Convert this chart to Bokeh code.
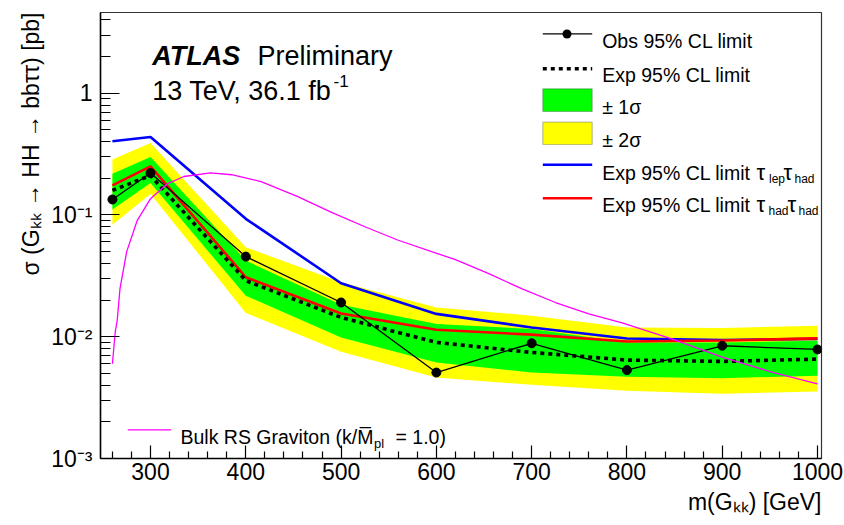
from bokeh.plotting import figure
from bokeh.models import Range1d, FixedTicker, Label, Arrow, BoxAnnotation, Title
from bokeh.embed import file_html
from bokeh.resources import INLINE

# ---------------- data ----------------
mass = [260, 300, 400, 500, 600, 700, 800, 900, 1000]
obs_limit = [0.134, 0.221, 0.0455, 0.0191, 0.00508, 0.00884, 0.00532, 0.00843, 0.00786]
exp_limit = [0.159, 0.211, 0.0289, 0.0144, 0.00898, 0.00743, 0.00643, 0.00627, 0.00655]
band1_up = [0.218, 0.299, 0.0422, 0.0183, 0.0127, 0.0116, 0.00898, 0.00898, 0.00927]
band1_dn = [0.111, 0.183, 0.0217, 0.00987, 0.00614, 0.00508, 0.00469, 0.00457, 0.00478]
band2_up = [0.286, 0.390, 0.0543, 0.0280, 0.0174, 0.0149, 0.0119, 0.0118, 0.0123]
band2_dn = [0.083, 0.149, 0.0157, 0.00753, 0.00462, 0.00403, 0.00360, 0.00341, 0.00355]
exp_lephad = [0.403, 0.437, 0.093, 0.0275, 0.0154, 0.0119, 0.00968, 0.0094, 0.0096]
exp_hadhad = [0.175, 0.251, 0.0308, 0.0155, 0.0114, 0.0104, 0.00915, 0.0093, 0.0097]

graviton_mass = [260, 263, 265, 268, 275, 286, 300, 318, 335, 363, 385, 416, 454, 490,
                 525, 560, 595, 620, 655, 690, 725, 760, 795, 847, 900, 953, 1000]
graviton_xs = [0.006, 0.011, 0.0135, 0.025, 0.050, 0.090, 0.136, 0.181, 0.207, 0.222,
               0.214, 0.188, 0.142, 0.105, 0.080, 0.062, 0.050, 0.043, 0.033, 0.0247,
               0.0191, 0.0154, 0.0130, 0.0096, 0.0068, 0.0051, 0.0041]

x_major_ticks = [300, 400, 500, 600, 700, 800, 900, 1000]
x_minor_ticks = [260, 280, 320, 340, 360, 380, 420, 440, 460, 480, 520, 540, 560, 580,
                 620, 640, 660, 680, 720, 740, 760, 780, 820, 840, 860, 880, 920, 940,
                 960, 980]
y_major_ticks = [0.001, 0.01, 0.1, 1]
y_minor_ticks = [0.002, 0.003, 0.004, 0.005, 0.006, 0.007, 0.008, 0.009,
                 0.02, 0.03, 0.04, 0.05, 0.06, 0.07, 0.08, 0.09,
                 0.2, 0.3, 0.4, 0.5, 0.6, 0.7, 0.8, 0.9, 2, 3, 4]
y_tick_labels = {0.001: "10\u207b\u00b3", 0.01: "10\u207b\u00b2", 0.1: "10\u207b\u00b9", 1: "1"}

x_title = "m(G\u2096\u2096) [GeV]"
y_title = "\u03c3 (G\u2096\u2096 \u2192 HH \u2192 bb\u03c4\u03c4) [pb]"

FONT = "Liberation Sans"

# ---------------- figure ----------------
W, H = 844, 525
FL, FR, FT, FB = 100, 821, 12, 458
p = figure(width=W, height=H, y_axis_type="log",
           x_range=Range1d(247.5, 1004.2), y_range=Range1d(0.001, 4.6),
           output_backend="svg", toolbar_location=None,
           min_border_left=FL, min_border_right=W - FR,
           min_border_top=FT, min_border_bottom=H - FB)
p.xgrid.visible = False
p.ygrid.visible = False
p.outline_line_color = "#333333"
p.outline_line_width = 1.2
p.background_fill_color = "white"
p.border_fill_color = "white"

for ax in (p.xaxis, p.yaxis):
    ax.axis_line_color = "black"
    ax.axis_line_width = 1.5
    ax.major_tick_line_color = "black"
    ax.minor_tick_line_color = "black"
    ax.major_tick_line_width = 1.2
    ax.minor_tick_line_width = 1.2
    ax.major_tick_out = 0
    ax.minor_tick_out = 0
    ax.major_label_text_font = FONT
    ax.major_label_text_font_size = "23px"
    ax.major_label_text_color = "black"

p.xaxis.ticker = FixedTicker(ticks=x_major_ticks, minor_ticks=x_minor_ticks)
p.xaxis.major_tick_in = 13
p.xaxis.minor_tick_in = 7
p.xaxis.major_label_standoff = 4

p.yaxis.ticker = FixedTicker(ticks=y_major_ticks, minor_ticks=y_minor_ticks)
p.yaxis.major_label_overrides = y_tick_labels
p.yaxis.major_tick_in = 19
p.yaxis.minor_tick_in = 10
p.yaxis.major_label_standoff = 8

# axis titles (right / top aligned, ROOT style)
p.add_layout(Title(text=x_title, align="right", text_font=FONT, text_font_size="23px",
                   text_font_style="normal", text_color="black", standoff=9), "below")
p.add_layout(Title(text=y_title, align="right", text_font=FONT, text_font_size="23px",
                   text_font_style="normal", text_color="black", standoff=10), "left")

# ---------------- data glyphs ----------------
p.varea(x=mass, y1=band2_dn, y2=band2_up, fill_color="#ffff00")
p.varea(x=mass, y1=band1_dn, y2=band1_up, fill_color="#00ff00")
p.line(mass, exp_lephad, line_color="#0000ff", line_width=2.6)
p.line(mass, exp_hadhad, line_color="#ff0000", line_width=2.6)
p.line(mass, exp_limit, line_color="black", line_width=3.6, line_dash="4 4")
p.line(mass, obs_limit, line_color="black", line_width=1.3)
p.scatter(mass, obs_limit, size=9, fill_color="black", line_color="black")
p.line(graviton_mass, graviton_xs, line_color="#ff00ff", line_width=1.3)


# ---------------- helpers for text placed in pixels (inside the frame) ----------------
def sx(cx):
    return cx - FL


def sy(cy):
    return FB - cy


def txt(s, cx, cy, size, align="left", style="normal", color="black"):
    p.add_layout(Label(x=sx(cx), y=sy(cy), x_units="screen", y_units="screen",
                       text=s, text_font=FONT, text_font_size=f"{size}px",
                       text_font_style=style, text_align=align,
                       text_baseline="alphabetic", text_color=color))


def hline(cx0, cx1, cy, color, width, dash="solid"):
    p.add_layout(Arrow(x_start=sx(cx0), y_start=sy(cy), x_end=sx(cx1), y_end=sy(cy),
                       start_units="screen", end_units="screen", start=None, end=None,
                       line_color=color, line_width=width, line_dash=dash))


def box(cx0, cx1, cy0, cy1, fill, line="#333333", lw=1.2, radius=0):
    p.add_layout(BoxAnnotation(left=sx(cx0), right=sx(cx1), top=sy(cy0), bottom=sy(cy1),
                               left_units="screen", right_units="screen",
                               top_units="screen", bottom_units="screen",
                               fill_color=fill, fill_alpha=1.0, line_color=line,
                               line_width=lw, border_radius=radius))


# ---------------- ATLAS label ----------------
txt("ATLAS", 151.7, 55, 27, style="bold italic")
txt("Preliminary", 257, 55, 27)
txt("13 TeV, 36.1 fb", 151.7, 90.7, 27)
txt("-1", 333, 80, 17)

# ---------------- legend (top right) ----------------
LX0, LX1, TX = 542.3, 591.7, 601.7
LS = 19.5
hline(LX0, LX1, 33.3, "black", 1.3)
box(562, 571, 29, 38, "black", line="black", lw=0, radius=5)
txt("Obs 95% CL limit", TX, 40.7, LS)
hline(LX0, LX1, 68.3, "black", 3.6, dash="4 4")
txt("Exp 95% CL limit", TX, 74, LS)
box(LX0, LX1, 88.3, 111, "#00ff00")
txt("\u00b1 1\u03c3", TX, 106, LS)
box(LX0, LX1, 121.7, 144, "#ffff00")
txt("\u00b1 2\u03c3", TX, 139, LS)
hline(LX0, LX1, 164.3, "#0000ff", 2.6)
txt("Exp 95% CL limit", TX, 172.3, LS)
txt("\u03c4", 756, 172.3, 22)
txt("lep", 768.5, 178.3, 12)
txt("\u03c4", 783, 172.3, 22)
txt("had", 794, 178.3, 12)
hline(LX0, LX1, 197.7, "#ff0000", 2.6)
txt("Exp 95% CL limit", TX, 204.3, LS)
txt("\u03c4", 756, 204.3, 22)
txt("had", 768, 210.3, 12)
txt("\u03c4", 787, 204.3, 22)
txt("had", 798, 210.3, 12)

# ---------------- legend (bottom left) ----------------
hline(127.3, 170.7, 429.3, "#ff00ff", 1.3)
txt("Bulk RS Graviton (k/M\u0305", 180, 436.7, LS)
txt("pl", 373.5, 443, 13)
txt("= 1.0)", 395, 436.7, LS)

open("out.html", "w").write(file_html(p, INLINE))
